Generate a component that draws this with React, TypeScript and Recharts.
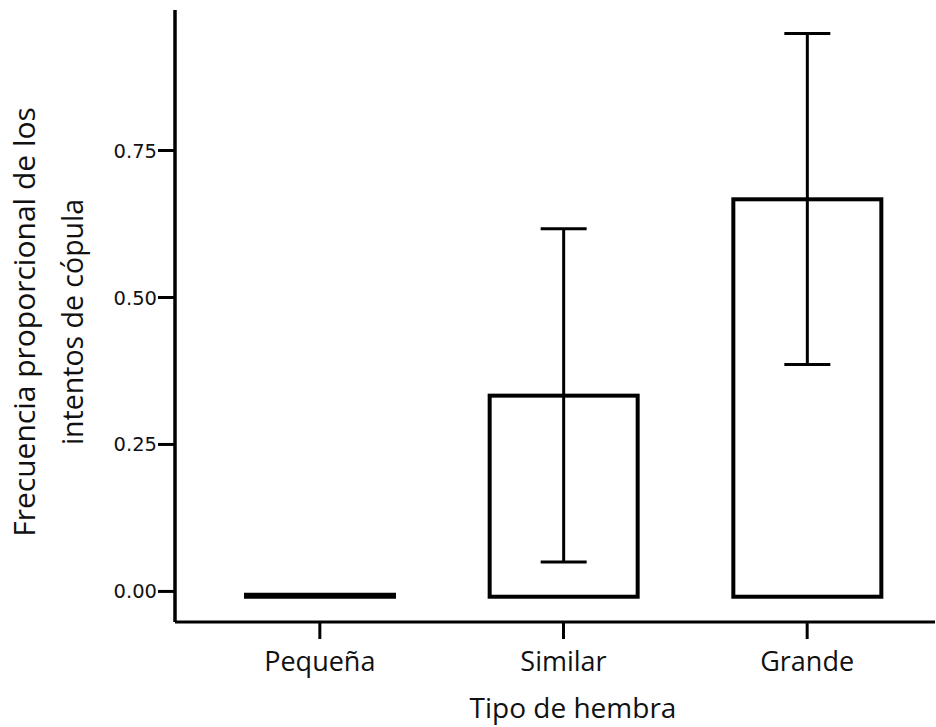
import { Bar, BarChart, ErrorBar, Label, XAxis, YAxis } from "recharts"

// values
const categories = ["Pequeña", "Similar", "Grande"]
const proportions = [0, 0.333, 0.667]
// [below, above] distance of the error bar ends from the bar top
const errors: ([number, number] | null)[] = [null, [0.283, 0.284], [0.281, 0.282]]
// bars in the reference start a hair under zero
const barBase = -0.009
const yTicks = [0, 0.25, 0.5, 0.75]

const data = categories.map((name, i) => ({
  name,
  range: [barBase, proportions[i]],
  error: errors[i],
}))

const labelFont = "'Open Sans', 'Noto Sans', sans-serif"

function OutlineBar(props: any) {
  const { x, y, width, height } = props
  if (height < 8) {
    const yb = y + height - 1
    return <line x1={x - 2} x2={x + width + 2} y1={yb} y2={yb} stroke="#000" strokeWidth={6} />
  }
  return <rect x={x} y={y} width={width} height={height} fill="none" stroke="#000" strokeWidth={4} />
}

function YTick(props: any) {
  const { x, y, payload } = props
  return (
    <text
      x={x}
      y={y}
      dy="0.36em"
      textAnchor="end"
      fontFamily="'DejaVu Sans', Verdana, sans-serif"
      fontSize={19.5}
      fill="#111"
    >
      {Number(payload.value).toFixed(2)}
    </text>
  )
}

function YTitle() {
  const cx = 35
  const cy = 322
  return (
    <text
      x={cx}
      y={cy}
      transform={`rotate(-90 ${cx} ${cy})`}
      textAnchor="middle"
      fontFamily={labelFont}
      fill="#111"
    >
      <tspan x={cx} dy={0} fontSize={30}>Frecuencia proporcional de los</tspan>
      <tspan x={cx} dy={48} fontSize={28.5}>intentos de cópula</tspan>
    </text>
  )
}

function XTitle(props: any) {
  const { viewBox } = props
  const cx = viewBox.x + viewBox.width / 2 + 18
  return (
    <text x={cx} y={718} textAnchor="middle" fontFamily={labelFont} fontSize={28} fill="#111">
      Tipo de hembra
    </text>
  )
}

export default function App() {
  return (
    <div style={{ position: "absolute", left: 0, top: 0, background: "#fff" }}>
      <BarChart width={936} height={727} data={data} margin={{ top: 10, right: 1, left: 0, bottom: 0 }}>
        <XAxis
          dataKey="name"
          height={105}
          padding={{ left: 23, right: 6 }}
          axisLine={{ stroke: "#000", strokeWidth: 3 }}
          tickLine={{ stroke: "#000", strokeWidth: 3 }}
          tickSize={17}
          tickMargin={13}
          tick={{ fontFamily: labelFont, fontSize: 27, fill: "#111" }}
        >
          <Label content={<XTitle />} />
        </XAxis>
        <YAxis
          width={175}
          type="number"
          domain={[-0.052, 0.989]}
          allowDataOverflow
          ticks={yTicks}
          axisLine={{ stroke: "#000", strokeWidth: 3.5 }}
          tickLine={{ stroke: "#000", strokeWidth: 3 }}
          tickSize={17}
          tickMargin={1}
          tick={<YTick />}
        >
          <Label content={<YTitle />} />
        </YAxis>
        <Bar dataKey="range" barSize={148} shape={<OutlineBar />} isAnimationActive={false}>
          <ErrorBar dataKey="error" width={23} stroke="#000" strokeWidth={3} direction="y" />
        </Bar>
      </BarChart>
    </div>
  )
}
